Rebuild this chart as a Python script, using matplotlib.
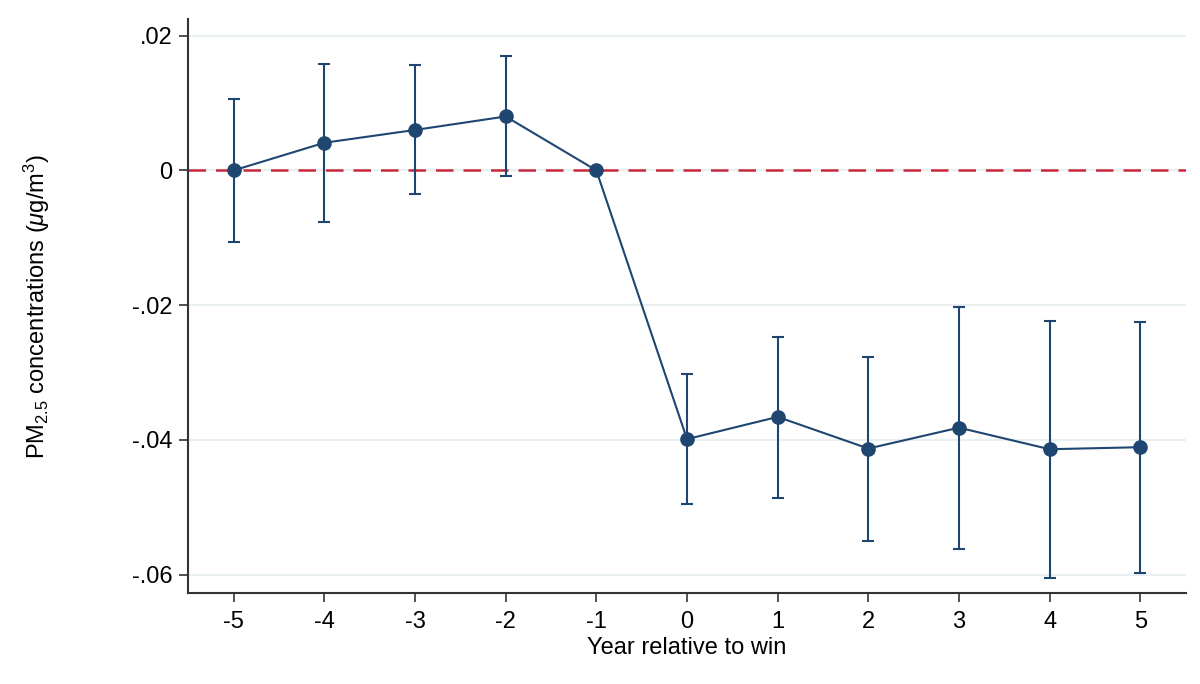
import numpy as np
import matplotlib
matplotlib.use("Agg")
import matplotlib.pyplot as plt

plt.rcParams['font.family'] = ['Liberation Sans', 'DejaVu Sans']
plt.rcParams['mathtext.fontset'] = 'custom'
plt.rcParams['mathtext.rm'] = 'Liberation Sans'
plt.rcParams['mathtext.it'] = 'Liberation Sans:italic'

# event-study estimates
years = [-5, -4, -3, -2, -1, 0, 1, 2, 3, 4, 5]
coef = [0.0, 0.0041, 0.0060, 0.0080, 0.0, -0.0399, -0.0366, -0.0413, -0.0382, -0.0414, -0.0411]
ci_hi = [0.0106, 0.0158, 0.0156, 0.0170, np.nan, -0.0302, -0.0247, -0.0277, -0.0203, -0.0224, -0.0225]
ci_lo = [-0.0107, -0.0076, -0.0035, -0.0009, np.nan, -0.0495, -0.0486, -0.0550, -0.0562, -0.0605, -0.0598]
yticks = [0.02, 0, -0.02, -0.04, -0.06]
ytick_labels = [".02", "0", "-.02", "-.04", "-.06"]

navy = "#1f4670"
red = "#c8283c"

fig = plt.figure(figsize=(12, 6.84), dpi=100)
ax = fig.add_axes([0.157, 0.1335, 0.831, 0.838])

coef = np.array(coef)
lo = np.array(ci_lo)
hi = np.array(ci_hi)
has_ci = ~np.isnan(lo)
yerr = np.vstack([coef - lo, hi - coef])[:, has_ci]

for y in yticks:
    ax.axhline(y, color="#eaf0f2", lw=1.6, zorder=0)
ax.axhline(0, color=red, lw=1.8, dashes=(7, 4), zorder=1)

ax.errorbar(np.array(years)[has_ci], coef[has_ci], yerr=yerr, fmt="none",
            ecolor=navy, elinewidth=1.5, capsize=4.5, capthick=1.5, zorder=2)
ax.plot(years, coef, color=navy, lw=1.5, marker="o", markersize=9.5, zorder=3)

ax.set_xlim(-5.5, 5.5)
ax.set_ylim(-0.0627, 0.0224)
ax.set_xticks(years)
ax.set_xticklabels([str(y) for y in years])
ax.set_yticks(yticks)
ax.set_yticklabels(ytick_labels)
ax.tick_params(labelsize=17, length=6.5, width=1.2, color="#333333", pad=5)
ax.tick_params(axis="x", pad=6.5)

for s in ["top", "right"]:
    ax.spines[s].set_visible(False)
for s in ["left", "bottom"]:
    ax.spines[s].set_linewidth(1.5)
    ax.spines[s].set_color("#333333")

ax.set_xlabel("Year relative to win", fontsize=17, labelpad=3)
ax.set_ylabel(r"PM$_{2.5}$ concentrations ($\mu$g/m$^3$)", fontsize=17)
ax.yaxis.set_label_coords(-0.137, 0.5)

fig.savefig("out.png", dpi=100)
